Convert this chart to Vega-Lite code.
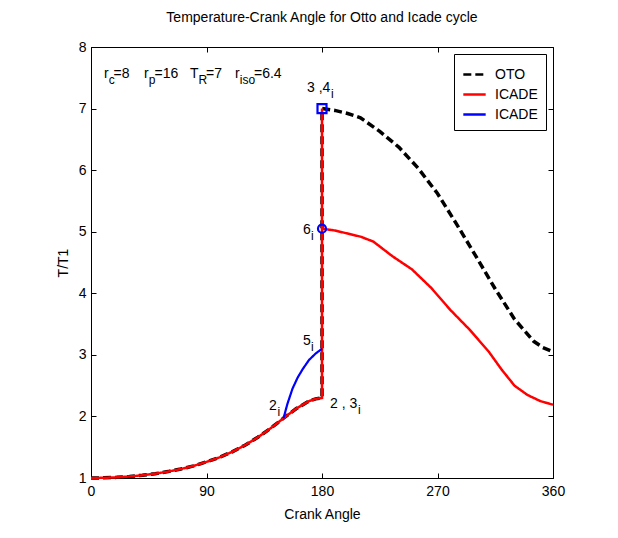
{
  "$schema": "https://vega.github.io/schema/vega-lite/v6.json",
  "autosize": "none",
  "width": 462,
  "height": 431,
  "padding": {"left": 91, "top": 47, "right": 65, "bottom": 60},
  "background": "white",
  "title": {"text": "Temperature-Crank Angle for Otto and Icade cycle", "fontSize": 14, "fontWeight": "normal", "font": "Liberation Sans", "color": "black", "offset": 15},
  "config": {
    "font": "Liberation Sans",
    "view": {"stroke": "black", "strokeWidth": 1},
    "axis": {"grid": false, "domainColor": "black", "tickColor": "black", "labelColor": "black", "titleColor": "black", "labelFontSize": 14, "titleFontSize": 14, "titleFontWeight": "normal", "labelFont": "Liberation Sans", "titleFont": "Liberation Sans", "tickSize": -5, "labelFlush": false, "labelOverlap": false},
    "legend": {"orient": "top-right", "offset": 7, "strokeColor": "black", "fillColor": "white", "padding": 8, "labelFontSize": 14, "labelFont": "Liberation Sans", "labelColor": "black", "symbolType": "stroke", "symbolSize": 500, "symbolStrokeWidth": 2.5, "rowPadding": -4, "labelOffset": 8}
  },
  "datasets": {
    "lines": [
      {"series": "OTO", "ord": 1, "angle": 0, "T": 1.0},
      {"series": "OTO", "ord": 2, "angle": 10, "T": 1.003},
      {"series": "OTO", "ord": 3, "angle": 20, "T": 1.011},
      {"series": "OTO", "ord": 4, "angle": 30, "T": 1.025},
      {"series": "OTO", "ord": 5, "angle": 40, "T": 1.044},
      {"series": "OTO", "ord": 6, "angle": 50, "T": 1.07},
      {"series": "OTO", "ord": 7, "angle": 60, "T": 1.104},
      {"series": "OTO", "ord": 8, "angle": 70, "T": 1.146},
      {"series": "OTO", "ord": 9, "angle": 80, "T": 1.197},
      {"series": "OTO", "ord": 10, "angle": 90, "T": 1.262},
      {"series": "OTO", "ord": 11, "angle": 100, "T": 1.334},
      {"series": "OTO", "ord": 12, "angle": 110, "T": 1.425},
      {"series": "OTO", "ord": 13, "angle": 120, "T": 1.533},
      {"series": "OTO", "ord": 14, "angle": 130, "T": 1.661},
      {"series": "OTO", "ord": 15, "angle": 140, "T": 1.808},
      {"series": "OTO", "ord": 16, "angle": 150, "T": 1.971},
      {"series": "OTO", "ord": 17, "angle": 160, "T": 2.128},
      {"series": "OTO", "ord": 18, "angle": 170, "T": 2.25},
      {"series": "OTO", "ord": 19, "angle": 175, "T": 2.285},
      {"series": "OTO", "ord": 20, "angle": 180, "T": 2.3},
      {"series": "OTO", "ord": 21, "angle": 180, "T": 7.0},
      {"series": "OTO", "ord": 22, "angle": 190, "T": 6.97},
      {"series": "OTO", "ord": 23, "angle": 200, "T": 6.92},
      {"series": "OTO", "ord": 24, "angle": 210, "T": 6.85},
      {"series": "OTO", "ord": 25, "angle": 225, "T": 6.63},
      {"series": "OTO", "ord": 26, "angle": 240, "T": 6.37},
      {"series": "OTO", "ord": 27, "angle": 255, "T": 6.03},
      {"series": "OTO", "ord": 28, "angle": 270, "T": 5.62},
      {"series": "OTO", "ord": 29, "angle": 285, "T": 5.12},
      {"series": "OTO", "ord": 30, "angle": 300, "T": 4.6},
      {"series": "OTO", "ord": 31, "angle": 315, "T": 4.07},
      {"series": "OTO", "ord": 32, "angle": 330, "T": 3.58},
      {"series": "OTO", "ord": 33, "angle": 345, "T": 3.22},
      {"series": "OTO", "ord": 34, "angle": 352, "T": 3.12},
      {"series": "OTO", "ord": 35, "angle": 360, "T": 3.05},
      {"series": "ICADE", "ord": 1, "angle": 0, "T": 1.0},
      {"series": "ICADE", "ord": 2, "angle": 10, "T": 1.003},
      {"series": "ICADE", "ord": 3, "angle": 20, "T": 1.011},
      {"series": "ICADE", "ord": 4, "angle": 30, "T": 1.025},
      {"series": "ICADE", "ord": 5, "angle": 40, "T": 1.044},
      {"series": "ICADE", "ord": 6, "angle": 50, "T": 1.07},
      {"series": "ICADE", "ord": 7, "angle": 60, "T": 1.104},
      {"series": "ICADE", "ord": 8, "angle": 70, "T": 1.146},
      {"series": "ICADE", "ord": 9, "angle": 80, "T": 1.197},
      {"series": "ICADE", "ord": 10, "angle": 90, "T": 1.262},
      {"series": "ICADE", "ord": 11, "angle": 100, "T": 1.334},
      {"series": "ICADE", "ord": 12, "angle": 110, "T": 1.425},
      {"series": "ICADE", "ord": 13, "angle": 120, "T": 1.533},
      {"series": "ICADE", "ord": 14, "angle": 130, "T": 1.661},
      {"series": "ICADE", "ord": 15, "angle": 140, "T": 1.808},
      {"series": "ICADE", "ord": 16, "angle": 150, "T": 1.971},
      {"series": "ICADE", "ord": 17, "angle": 160, "T": 2.128},
      {"series": "ICADE", "ord": 18, "angle": 170, "T": 2.25},
      {"series": "ICADE", "ord": 19, "angle": 175, "T": 2.285},
      {"series": "ICADE", "ord": 20, "angle": 180, "T": 2.3},
      {"series": "ICADE", "ord": 21, "angle": 180, "T": 7.0},
      {"series": "ICADE", "ord": 22, "angle": 180, "T": 5.05},
      {"series": "ICADE", "ord": 23, "angle": 190, "T": 5.02},
      {"series": "ICADE", "ord": 24, "angle": 200, "T": 4.97},
      {"series": "ICADE", "ord": 25, "angle": 210, "T": 4.92},
      {"series": "ICADE", "ord": 26, "angle": 220, "T": 4.84},
      {"series": "ICADE", "ord": 27, "angle": 235, "T": 4.6},
      {"series": "ICADE", "ord": 28, "angle": 250, "T": 4.39},
      {"series": "ICADE", "ord": 29, "angle": 265, "T": 4.09},
      {"series": "ICADE", "ord": 30, "angle": 280, "T": 3.73},
      {"series": "ICADE", "ord": 31, "angle": 295, "T": 3.41},
      {"series": "ICADE", "ord": 32, "angle": 310, "T": 3.05},
      {"series": "ICADE", "ord": 33, "angle": 320, "T": 2.76},
      {"series": "ICADE", "ord": 34, "angle": 330, "T": 2.5},
      {"series": "ICADE", "ord": 35, "angle": 340, "T": 2.35},
      {"series": "ICADE", "ord": 36, "angle": 350, "T": 2.25},
      {"series": "ICADE", "ord": 37, "angle": 360, "T": 2.19},
      {"series": "ICADE2", "ord": 1, "angle": 150, "T": 1.97},
      {"series": "ICADE2", "ord": 2, "angle": 153, "T": 2.2},
      {"series": "ICADE2", "ord": 3, "angle": 157, "T": 2.45},
      {"series": "ICADE2", "ord": 4, "angle": 161, "T": 2.63},
      {"series": "ICADE2", "ord": 5, "angle": 165, "T": 2.77},
      {"series": "ICADE2", "ord": 6, "angle": 170, "T": 2.92},
      {"series": "ICADE2", "ord": 7, "angle": 175, "T": 3.02},
      {"series": "ICADE2", "ord": 8, "angle": 180, "T": 3.1}
    ],
    "markers": [
      {"shape": "square", "angle": 180, "T": 7.0},
      {"shape": "circle", "angle": 180, "T": 5.05}
    ],
    "labels": [
      {"kind": "main", "angle": 10.1, "T": 7.5, "text": "r"},
      {"kind": "sub", "angle": 13.8, "T": 7.4, "text": "c"},
      {"kind": "main", "angle": 17.5, "T": 7.5, "text": "=8"},
      {"kind": "main", "angle": 41.3, "T": 7.5, "text": "r"},
      {"kind": "sub", "angle": 45.0, "T": 7.4, "text": "p"},
      {"kind": "main", "angle": 49.5, "T": 7.5, "text": "=16"},
      {"kind": "main", "angle": 77.1, "T": 7.5, "text": "T"},
      {"kind": "sub", "angle": 83.8, "T": 7.4, "text": "R"},
      {"kind": "main", "angle": 89.6, "T": 7.5, "text": "=7"},
      {"kind": "main", "angle": 112.2, "T": 7.5, "text": "r"},
      {"kind": "sub", "angle": 115.9, "T": 7.4, "text": "iso"},
      {"kind": "main", "angle": 127.0, "T": 7.5, "text": "=6.4"},
      {"kind": "main", "angle": 168.3, "T": 7.27, "text": "3 ,4"},
      {"kind": "sub", "angle": 187.0, "T": 7.17, "text": "i"},
      {"kind": "main", "angle": 165.2, "T": 4.96, "text": "6"},
      {"kind": "sub", "angle": 171.4, "T": 4.87, "text": "i"},
      {"kind": "main", "angle": 165.2, "T": 3.16, "text": "5"},
      {"kind": "sub", "angle": 171.4, "T": 3.06, "text": "i"},
      {"kind": "main", "angle": 138.7, "T": 2.1, "text": "2"},
      {"kind": "sub", "angle": 145.3, "T": 2.01, "text": "i"},
      {"kind": "main", "angle": 186.2, "T": 2.14, "text": "2 , 3"},
      {"kind": "sub", "angle": 208.1, "T": 2.04, "text": "i"}
    ]
  },
  "resolve": {"axis": {"x": "independent", "y": "independent"}},
  "layer": [
    {
      "data": {"name": "lines"},
      "transform": [{"filter": "datum.series == 'OTO'"}],
      "mark": {"type": "line", "strokeWidth": 3.5},
      "encoding": {
        "x": {"field": "angle", "type": "quantitative", "scale": {"domain": [0, 360], "nice": false, "zero": false}, "axis": {"orient": "bottom", "values": [0, 90, 180, 270, 360], "title": "Crank Angle", "labelPadding": 11, "titlePadding": 9}},
        "y": {"field": "T", "type": "quantitative", "scale": {"domain": [1, 8], "nice": false, "zero": false}, "axis": {"orient": "left", "values": [1, 2, 3, 4, 5, 6, 7, 8], "title": "T/T1", "labelPadding": 10, "titlePadding": 8}},
        "order": {"field": "ord", "type": "quantitative"},
        "color": {"field": "series", "type": "nominal", "scale": {"domain": ["OTO", "ICADE", "ICADE2"], "range": ["#000000", "#ff0000", "#0000ff"]}, "legend": {"title": null, "labelExpr": "datum.label == 'ICADE2' ? 'ICADE' : datum.label"}},
        "strokeDash": {"field": "series", "type": "nominal", "scale": {"domain": ["OTO", "ICADE", "ICADE2"], "range": [[8, 4], [1, 0], [1, 0]]}, "legend": {"title": null, "labelExpr": "datum.label == 'ICADE2' ? 'ICADE' : datum.label"}}
      }
    },
    {
      "data": {"name": "lines"},
      "transform": [{"filter": "datum.series == 'ICADE'"}],
      "mark": {"type": "line", "strokeWidth": 2.5},
      "encoding": {
        "x": {"field": "angle", "type": "quantitative", "axis": null},
        "y": {"field": "T", "type": "quantitative", "axis": null},
        "order": {"field": "ord", "type": "quantitative"},
        "color": {"field": "series", "type": "nominal"},
        "strokeDash": {"field": "series", "type": "nominal"}
      }
    },
    {
      "data": {"name": "lines"},
      "transform": [{"filter": "datum.series == 'ICADE2'"}],
      "mark": {"type": "line", "strokeWidth": 2.2},
      "encoding": {
        "x": {"field": "angle", "type": "quantitative", "axis": null},
        "y": {"field": "T", "type": "quantitative", "axis": null},
        "order": {"field": "ord", "type": "quantitative"},
        "color": {"field": "series", "type": "nominal"},
        "strokeDash": {"field": "series", "type": "nominal"}
      }
    },
    {
      "data": {"name": "markers"},
      "transform": [{"filter": "datum.shape == 'square'"}],
      "mark": {"type": "point", "shape": "square", "filled": false, "stroke": "#0000ff", "strokeWidth": 2.2, "size": 81, "opacity": 1},
      "encoding": {
        "x": {"field": "angle", "type": "quantitative", "axis": {"orient": "top", "values": [0, 90, 180, 270, 360], "labels": false, "title": null, "domain": false}},
        "y": {"field": "T", "type": "quantitative", "axis": {"orient": "right", "values": [1, 2, 3, 4, 5, 6, 7, 8], "labels": false, "title": null, "domain": false}}
      }
    },
    {
      "data": {"name": "markers"},
      "transform": [{"filter": "datum.shape == 'circle'"}],
      "mark": {"type": "point", "shape": "circle", "filled": false, "stroke": "#0000ff", "strokeWidth": 2.2, "size": 64, "opacity": 1},
      "encoding": {
        "x": {"field": "angle", "type": "quantitative", "axis": null},
        "y": {"field": "T", "type": "quantitative", "axis": null}
      }
    },
    {
      "data": {"name": "labels"},
      "transform": [{"filter": "datum.kind == 'main'"}],
      "mark": {"type": "text", "align": "left", "baseline": "alphabetic", "fontSize": 14, "font": "Liberation Sans", "color": "black"},
      "encoding": {
        "x": {"field": "angle", "type": "quantitative", "axis": null},
        "y": {"field": "T", "type": "quantitative", "axis": null},
        "text": {"field": "text"}
      }
    },
    {
      "data": {"name": "labels"},
      "transform": [{"filter": "datum.kind == 'sub'"}],
      "mark": {"type": "text", "align": "left", "baseline": "alphabetic", "fontSize": 12, "font": "Liberation Sans", "color": "black"},
      "encoding": {
        "x": {"field": "angle", "type": "quantitative", "axis": null},
        "y": {"field": "T", "type": "quantitative", "axis": null},
        "text": {"field": "text"}
      }
    }
  ]
}
